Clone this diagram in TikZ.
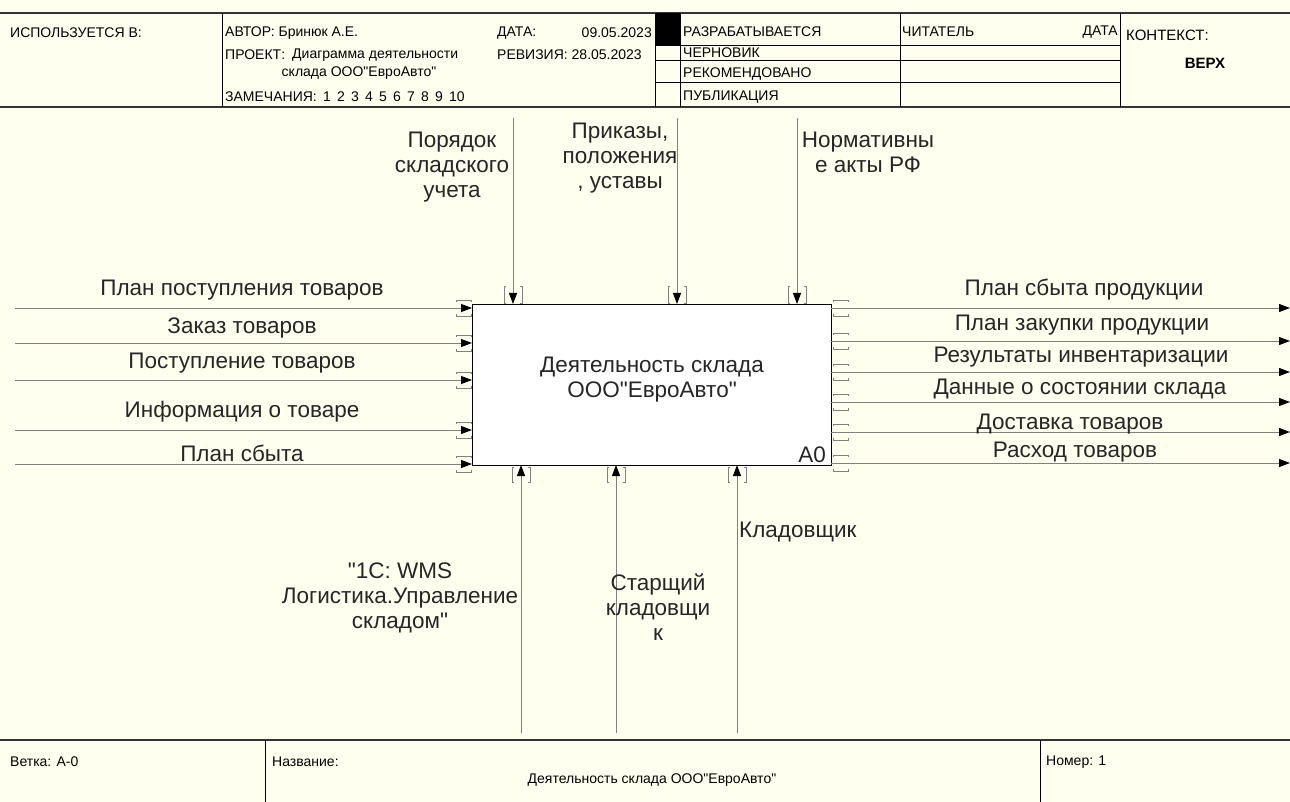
\documentclass[tikz,border=0pt]{standalone}
\usepackage{fontspec}
\setmainfont{Liberation Sans}[Ligatures=TeXOff]
\usetikzlibrary{arrows.meta}
\definecolor{bgc}{HTML}{FFFFF0}
\definecolor{lnc}{HTML}{808080}
\newcommand\dq{"}
\begin{document}
\begin{tikzpicture}[x=1pt,y=-1pt,
  hdr/.style={draw=black,line width=1pt},
  hthick/.style={draw=black!80,line width=2pt},
  htxt/.style={font=\fontsize{14}{16}\selectfont,inner sep=0pt,anchor=west,text=black},
  lbl/.style={font=\fontsize{22.5}{25}\selectfont,inner sep=0pt,align=center,text=black!85},
  arr/.style={draw=lnc,line width=0.9pt,-{Triangle[length=11pt,width=8pt,color=black]}},
  tun/.style={draw=lnc,line width=0.8pt},
]
\fill[bgc] (0,0) rectangle (1290,802);
\useasboundingbox (0,0) rectangle (1290,802);

% ---------- header ----------
\draw[hthick] (0,13) -- (1290,13);
\draw[hthick] (0,107) -- (1290,107);
\foreach \x in {222,655,680,900,1120} \draw[hdr] (\x,13) -- (\x,107);
\foreach \y in {46,61,83} \draw[hdr] (655,\y) -- (1120,\y);
\fill[black] (655,13) rectangle (680,46);

\node[htxt] (used) at (10,33) {ИСПОЛЬЗУЕТСЯ В:};
\node[htxt] (auth) at (225,33) {АВТОР: Бринюк А.Е.};
\node[htxt] (date) at (497,33) {ДАТА:};
\node[htxt,anchor=east] (dateV) at (652,33) {09.05.2023};
\node[htxt] (proj) at (225,55) {ПРОЕКТ:};
\node[htxt] (projV) at (292,55) {Диаграмма деятельности};
\node[htxt,anchor=center] (projV2) at (359,73) {склада ООО\dq ЕвроАвто\dq};
\node[htxt] (rev) at (497,55) {РЕВИЗИЯ: 28.05.2023};
\node[htxt] (notes) at (225,97) {ЗАМЕЧАНИЯ:\, 1\, 2\, 3\, 4\, 5\, 6\, 7\, 8\, 9\, 10};
\node[htxt] (st1) at (683,32) {РАЗРАБАТЫВАЕТСЯ};
\node[htxt] (st2) at (683,53) {ЧЕРНОВИК};
\node[htxt] (st3) at (683,74) {РЕКОМЕНДОВАНО};
\node[htxt] (st4) at (683,97) {ПУБЛИКАЦИЯ};
\node[htxt] (reader) at (902,32) {ЧИТАТЕЛЬ};
\node[htxt,anchor=east] (rdate) at (1118,32) {ДАТА};
\node[htxt,font=\fontsize{15}{17}\selectfont] (ctx) at (1126,35) {КОНТЕКСТ:};
\node[htxt,anchor=center,font=\fontsize{15}{17}\selectfont\bfseries] (top) at (1205,63) {ВЕРХ};

% ---------- box ----------
\node[draw=black,line width=1.2pt,fill=white,minimum width=359pt,minimum height=161pt,anchor=north west,inner sep=0pt] (A0) at (472,304) {};
\node[lbl] (A0t) at (652,380) {Деятельность склада\\ООО\dq ЕвроАвто\dq};
\node[lbl,anchor=south east] (A0n) at (826,463) {A0};

% ---------- inputs ----------
\foreach \i/\y/\ly/\t in {1/308/290/План поступления товаров,2/343/328/Заказ товаров,3/380/363/Поступление товаров,4/430/412/Информация о товаре,5/464/453/План сбыта}{
  \coordinate (is\i) at (15,\y);
  \coordinate (ie\i) at (472,\y);
  \draw[arr] (is\i) -- (ie\i);
  \draw[tun] (456,{\y-6}) -- (456,{\y-8}) -- (471,{\y-8}) -- (471,{\y-6});
  \draw[tun] (456,{\y+6}) -- (456,{\y+8}) -- (471,{\y+8}) -- (471,{\y+6});
  \node[lbl] (il\i) at (242,\ly) {\t};
}

% ---------- outputs ----------
\foreach \i/\y/\ly/\lx/\t in {1/308/290/1084/План сбыта продукции,2/341/325/1082/План закупки продукции,3/372/357/1081/Результаты инвентаризации,4/402/389/1080/Данные о состоянии склада,5/432/424/1070/Доставка товаров,6/463/452/1075/Расход товаров}{
  \coordinate (os\i) at (831,\y);
  \coordinate (oe\i) at (1290,\y);
  \draw[arr] (os\i) -- (oe\i);
  \draw[tun] (833,{\y-6}) -- (833,{\y-8}) -- (848,{\y-8}) -- (848,{\y-6});
  \draw[tun] (833,{\y+6}) -- (833,{\y+8}) -- (848,{\y+8}) -- (848,{\y+6});
  \node[lbl] (ol\i) at (\lx,\ly) {\t};
}

% ---------- controls ----------
\foreach \i/\x in {1/513,2/677,3/797}{
  \coordinate (cs\i) at (\x,118);
  \coordinate (ce\i) at (\x,304);
  \draw[arr] (cs\i) -- (ce\i);
  \draw[tun] ({\x-7},286) -- ({\x-9},286) -- ({\x-9},303) -- ({\x-7},303);
  \draw[tun] ({\x+7},286) -- ({\x+9},286) -- ({\x+9},303) -- ({\x+7},303);
}
\node[lbl] (cl1) at (452,167) {Порядок\\складского\\учета};
\node[lbl] (cl2) at (620,158) {Приказы,\\положения\\, уставы};
\node[lbl] (cl3) at (868,152) {Нормативны\\е акты РФ};

% ---------- mechanisms ----------
\foreach \i/\x in {1/521,2/616,3/737}{
  \coordinate (ms\i) at (\x,733);
  \coordinate (me\i) at (\x,465);
  \draw[arr] (ms\i) -- (me\i);
  \draw[tun] ({\x-7},467) -- ({\x-9},467) -- ({\x-9},482) -- ({\x-7},482);
  \draw[tun] ({\x+7},467) -- ({\x+9},467) -- ({\x+9},482) -- ({\x+7},482);
}
\node[lbl] (ml1) at (400,598) {\dq 1C: WMS\\Логистика.Управление\\складом\dq};
\node[lbl] (ml2) at (658,607) {Старщий\\кладовщи\\к};
\node[lbl,anchor=west] (ml3) at (739,532) {Кладовщик};

% ---------- footer ----------
\draw[hthick] (0,740) -- (1290,740);
\draw[hdr] (265,740) -- (265,802);
\draw[hdr] (1040,740) -- (1040,802);
\node[htxt] (branch) at (10,762) {Ветка: A-0};
\node[htxt] (name) at (272,762) {Название:};
\node[htxt,anchor=center] (nameV) at (652,780) {Деятельность склада ООО\dq ЕвроАвто\dq};
\node[htxt] (num) at (1046,762) {Номер: 1};
\end{tikzpicture}
\end{document}
